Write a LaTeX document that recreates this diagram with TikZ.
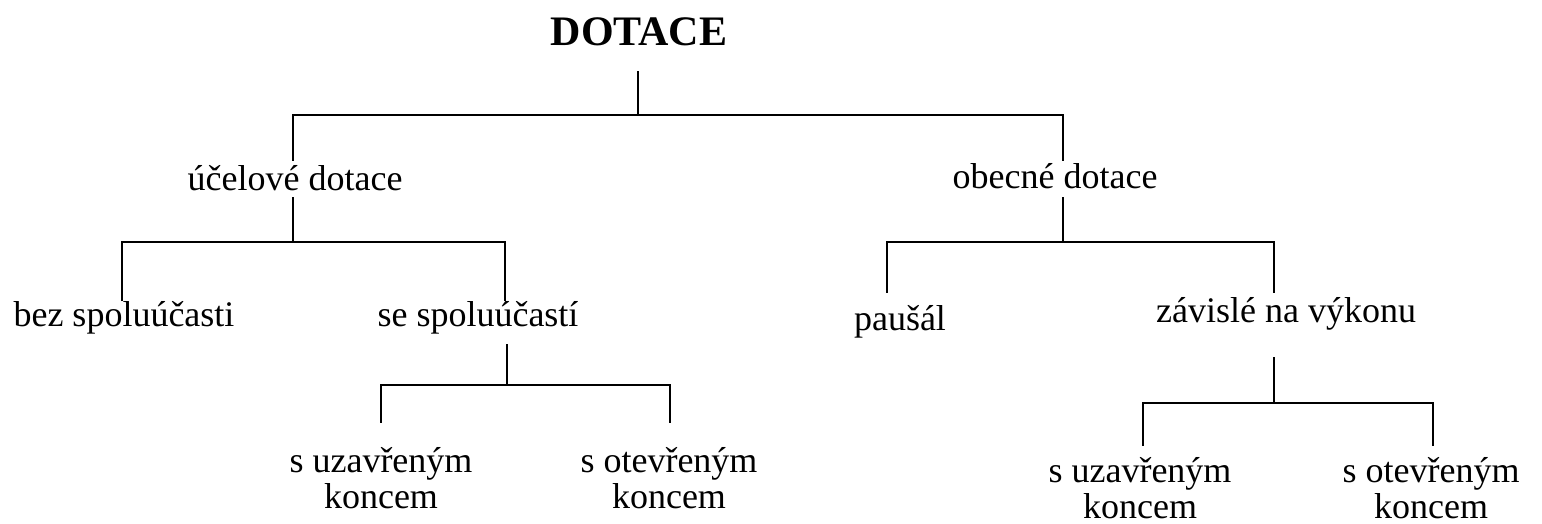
\documentclass[tikz,border=0pt]{standalone}
\usepackage{fontspec}
\setmainfont{Liberation Serif}
\begin{document}
\begin{tikzpicture}[x=1pt,y=-1pt,
  lbl/.style={inner sep=0pt,anchor=base,font=\fontsize{36}{38}\selectfont},
  head/.style={inner sep=0pt,anchor=base,font=\fontsize{42}{44}\selectfont\bfseries},
  conn/.style={line width=2pt,line cap=rect}]
\useasboundingbox (0,0) rectangle (1542,524);
% labels
\node[head] (root) at (639,46) {DOTACE};
\node[lbl] (ucel) at (295,190) {účelové dotace};
\node[lbl] (obec) at (1055,188) {obecné dotace};
\node[lbl] (bez) at (124,326) {bez spoluúčasti};
\node[lbl] (se) at (478,326) {se spoluúčastí};
\node[lbl] (pau) at (900,330) {paušál};
\node[lbl] (zav) at (1286,322) {závislé na výkonu};
\node[lbl] (lu1) at (381,472) {s uzavřeným};
\node[lbl] (lu2) at (381,508) {koncem};
\node[lbl] (lo1) at (669,472) {s otevřeným};
\node[lbl] (lo2) at (669,508) {koncem};
\node[lbl] (ru1) at (1140,482) {s uzavřeným};
\node[lbl] (ru2) at (1140,518) {koncem};
\node[lbl] (ro1) at (1431,482) {s otevřeným};
\node[lbl] (ro2) at (1431,518) {koncem};
% junction coordinates
\coordinate (r0) at (638,72);
\coordinate (rj) at (638,115);
\coordinate (uA) at (293,160);
\coordinate (oA) at (1063,160);
\coordinate (u0) at (293,198);
\coordinate (uj) at (293,242);
\coordinate (bA) at (122,300);
\coordinate (sA) at (505,300);
\coordinate (o0) at (1063,198);
\coordinate (oj) at (1063,242);
\coordinate (pA) at (887,292);
\coordinate (zA) at (1274,292);
\coordinate (s0) at (507,345);
\coordinate (sj) at (507,385);
\coordinate (luA) at (381,422);
\coordinate (loA) at (670,422);
\coordinate (z0) at (1274,358);
\coordinate (zj) at (1274,403);
\coordinate (ruA) at (1143,445);
\coordinate (roA) at (1433,445);
% connectors
\draw[conn] (r0) -- (rj);
\draw[conn] (uA) |- (rj) -| (oA);
\draw[conn] (u0) -- (uj);
\draw[conn] (bA) |- (uj) -| (sA);
\draw[conn] (o0) -- (oj);
\draw[conn] (pA) |- (oj) -| (zA);
\draw[conn] (s0) -- (sj);
\draw[conn] (luA) |- (sj) -| (loA);
\draw[conn] (z0) -- (zj);
\draw[conn] (ruA) |- (zj) -| (roA);
\end{tikzpicture}
\end{document}
